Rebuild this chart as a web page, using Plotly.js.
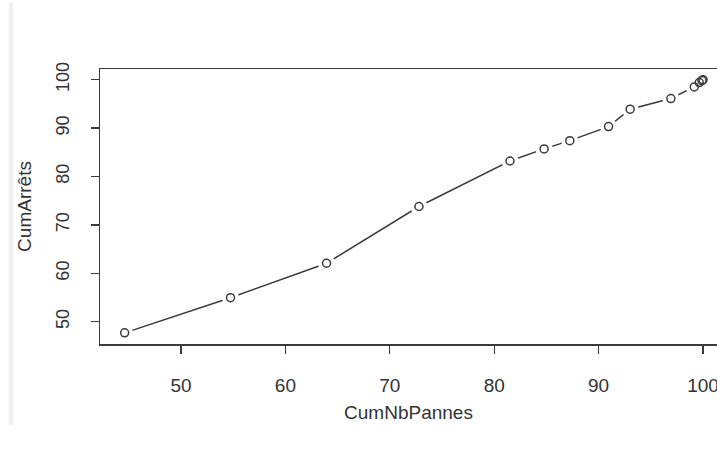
<!DOCTYPE html>
<html>
<head>
<meta charset="utf-8">
<script src="https://cdn.plot.ly/plotly-3.0.1.min.js"></script>
<style>html,body{margin:0;padding:0;background:#fff;}#chart{width:717px;height:454px;}</style>
</head>
<body>
<div id="chart"></div>
<script>
const cumNbPannes = [44.6, 54.74, 63.94, 72.79, 81.51, 84.78, 87.24, 90.95, 93.02, 96.92, 99.16, 99.64, 99.9, 100];
const cumArrets   = [47.7, 54.96, 62.08, 73.8, 83.2, 85.7, 87.4, 90.3, 93.9, 96.1, 98.5, 99.4, 99.8, 100];
const xTicks = [50, 60, 70, 80, 90, 100];
const yTicks = [50, 60, 70, 80, 90, 100];

const ink = '#3a3a3a';
const traces = [
  {x: cumNbPannes, y: cumArrets, mode: 'lines', line: {color: ink, width: 1.5}, hoverinfo: 'skip', showlegend: false},
  {x: cumNbPannes, y: cumArrets, mode: 'markers', marker: {symbol: 'circle', size: 17, color: '#ffffff', line: {width: 0}}, hoverinfo: 'skip', showlegend: false},
  {x: cumNbPannes, y: cumArrets, mode: 'markers', marker: {symbol: 'circle-open', size: 8, color: ink, line: {width: 1.5, color: ink}}, showlegend: false}
];

const font = {family: 'Liberation Sans, Arial, sans-serif', size: 19, color: '#333'};
const yfont = {family: 'Liberation Sans, Arial, sans-serif', size: 18, color: '#333'};
const layout = {
  width: 717, height: 454,
  margin: {l: 100, r: 0, t: 69, b: 110},
  paper_bgcolor: '#ffffff', plot_bgcolor: '#ffffff',
  font: font,
  showlegend: false,
  xaxis: {
    range: [42.24, 101.34], tickvals: xTicks, ticktext: xTicks.map(String),
    showgrid: false, zeroline: false, showline: true, mirror: true, linecolor: ink, linewidth: 1.5,
    ticks: 'outside', ticklen: 8, tickwidth: 1.2, tickcolor: ink, ticklabelstandoff: 16,
    ticklabeloverflow: 'allow',
    tickfont: font,
    title: {text: 'CumNbPannes', font: font, standoff: 10}
  },
  yaxis: {
    range: [45.4, 102.2], tickvals: yTicks, ticktext: yTicks.map(String),
    showgrid: false, zeroline: false, showline: true, mirror: false, linecolor: ink, linewidth: 1.5,
    ticks: 'outside', ticklen: 8, tickwidth: 1.2, tickcolor: ink, tickangle: -90, ticklabelstandoff: 14,
    tickfont: yfont,
    title: {text: 'CumArrêts', font: font, standoff: 16}
  },
  shapes: [
    {type: 'rect', xref: 'paper', yref: 'paper', x0: -91/617, x1: -87/617, y0: -81/275, y1: 341/275, fillcolor: '#efefef', line: {width: 0}, layer: 'below'}
  ]
};
Plotly.newPlot('chart', traces, layout, {displayModeBar: false, staticPlot: true});
</script>
</body>
</html>
